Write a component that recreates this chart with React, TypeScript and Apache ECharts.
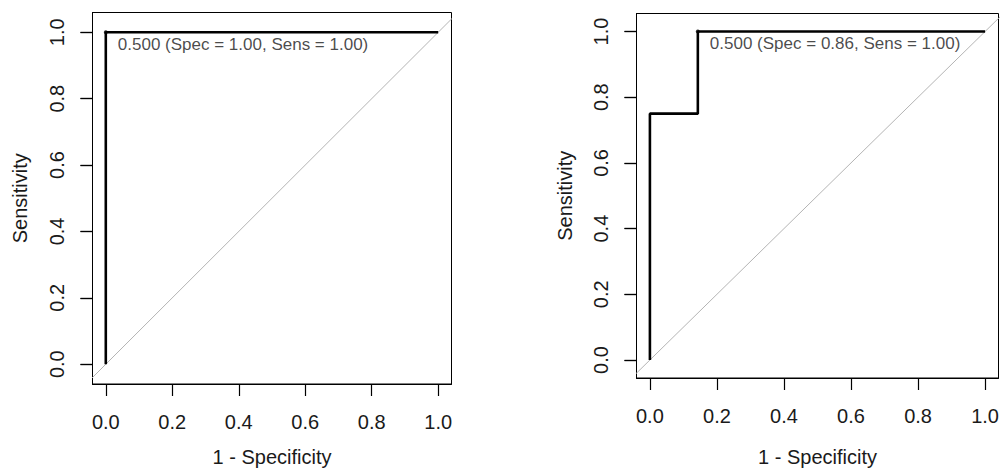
import React, { useEffect, useRef } from "react";
import * as echarts from "echarts";

// Tick positions shared by both axes of both panels
const tickValues = [0, 0.2, 0.4, 0.6, 0.8, 1.0];

// Panel 1: ROC curve (1 - specificity, sensitivity)
const leftFpr = [0, 0, 1];
const leftSens = [0, 1, 1];
const leftThreshold = 0.5;
const leftThrFpr = 0;
const leftThrSens = 1;

// Panel 2: ROC curve (1 - specificity, sensitivity)
const rightFpr = [0, 0, 0.143, 0.143, 1];
const rightSens = [0, 0.75, 0.75, 1, 1];
const rightThreshold = 0.5;
const rightThrFpr = 0.143;
const rightThrSens = 1;

const FONT = "'Liberation Sans', Arial, sans-serif";
const TEXT = "#1a1a1a";

const zip = (xs: number[], ys: number[]) => xs.map((x, i) => [x, ys[i]]);

const thrLabel = (thr: number, fpr: number, sens: number) =>
  `${thr.toFixed(3)} (Spec = ${(1 - fpr).toFixed(2)}, Sens = ${sens.toFixed(2)})`;

// a fresh tick definition for every axis
const makeTicks = () => ({
  show: true,
  customValues: tickValues.slice(),
  length: 12,
  lineStyle: { color: "#000", width: 1.2 },
});

export default function App() {
  const ref = useRef<HTMLDivElement>(null);

  useEffect(() => {
    if (!ref.current) return;
    const chart = echarts.init(ref.current, undefined, { renderer: "svg" });

    const panels = [
      {
        grid: { left: 92.5, top: 12.5, width: 359, height: 372 },
        yMin: -0.0596,
        yMax: 1.0596,
        fpr: leftFpr,
        sens: leftSens,
        thr: [leftThreshold, leftThrFpr, leftThrSens],
        xNameGap: 63,
        yNameGap: 63,
      },
      {
        grid: { left: 636.5, top: 13.5, width: 365, height: 375 },
        yMin: -0.0548,
        yMax: 1.0548,
        fpr: rightFpr,
        sens: rightSens,
        thr: [rightThreshold, rightThrFpr, rightThrSens],
        xNameGap: 69,
        yNameGap: 62,
      },
    ];

    const grid = panels.map((p) => ({
      ...p.grid,
      show: true,
      borderColor: "#000",
      borderWidth: 1,
      backgroundColor: "transparent",
      containLabel: false,
    }));

    const xAxis = panels.map((p, i) => ({
      type: "value",
      gridIndex: i,
      min: -0.04,
      max: 1.04,
      name: "1 - Specificity",
      nameLocation: "middle",
      nameGap: p.xNameGap,
      nameTextStyle: { fontFamily: FONT, fontSize: 20, color: TEXT },
      axisLine: { show: true, onZero: false, lineStyle: { color: "#000", width: 1 } },
      splitLine: { show: false },
      axisTick: makeTicks(),
      axisLabel: {
        customValues: tickValues.slice(),
        formatter: (v: number) => v.toFixed(1),
        fontFamily: FONT,
        fontSize: 20,
        color: TEXT,
        margin: 28,
      },
    }));

    // labelled sensitivity axes (indices 0, 1)
    const yMain = panels.map((p, i) => ({
      type: "value",
      gridIndex: i,
      position: "left",
      min: p.yMin,
      max: p.yMax,
      name: "Sensitivity",
      nameLocation: "middle",
      nameGap: p.yNameGap,
      nameTextStyle: { fontFamily: FONT, fontSize: 20, color: TEXT },
      axisLine: { show: true, onZero: false, lineStyle: { color: "#000", width: 1 } },
      splitLine: { show: false },
      axisTick: makeTicks(),
      axisLabel: {
        customValues: tickValues.slice(),
        formatter: (v: number) => v.toFixed(1),
        rotate: 90,
        fontFamily: FONT,
        fontSize: 20,
        color: TEXT,
        margin: 26,
      },
    }));

    // companion axes on the same side that carry the outward tick marks (indices 2, 3)
    const yTicks = panels.map((p, i) => ({
      type: "value",
      gridIndex: i,
      position: "left",
      offset: 0,
      min: p.yMin,
      max: p.yMax,
      axisLine: { show: true, onZero: false, lineStyle: { color: "#000", width: 1 } },
      splitLine: { show: false },
      axisTick: makeTicks(),
      axisLabel: { show: false },
    }));

    const series: any[] = [];
    panels.forEach((p, i) => {
      // chance diagonal, clipped to the plotting region
      series.push({
        type: "line",
        xAxisIndex: i,
        yAxisIndex: i,
        data: [
          [-1, -1],
          [2, 2],
        ],
        showSymbol: false,
        clip: true,
        silent: true,
        lineStyle: { color: "#b4b4b4", width: 1 },
        z: 1,
      });
      // ROC curve
      series.push({
        type: "line",
        xAxisIndex: i,
        yAxisIndex: i,
        data: zip(p.fpr, p.sens),
        showSymbol: false,
        clip: true,
        silent: true,
        lineStyle: { color: "#000", width: 2.6 },
        z: 2,
      });
      // best threshold point and its annotation
      const [thr, tf, ts] = p.thr;
      series.push({
        type: "scatter",
        xAxisIndex: i,
        yAxisIndex: i,
        data: [[tf, ts]],
        symbol: "circle",
        symbolSize: 4,
        itemStyle: { color: "#000" },
        silent: true,
        clip: false,
        z: 3,
        label: {
          show: true,
          formatter: thrLabel(thr, tf, ts),
          position: [14, 14],
          align: "left",
          verticalAlign: "middle",
          fontFamily: FONT,
          fontSize: 17,
          color: TEXT,
        },
      });
    });

    chart.setOption({
      animation: false,
      backgroundColor: "#fff",
      grid,
      xAxis,
      yAxis: [...yMain, ...yTicks],
      series,
    });

    return () => chart.dispose();
  }, []);

  return (
    <div
      ref={ref}
      style={{ position: "absolute", left: 0, top: 0, width: 1002, height: 472 }}
    />
  );
}
